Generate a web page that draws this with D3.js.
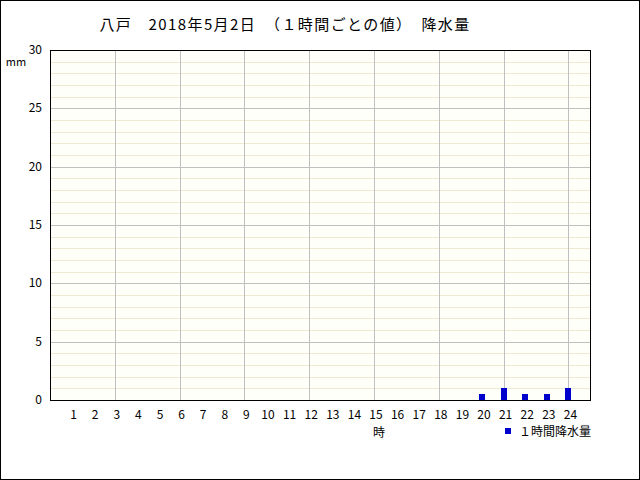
<!DOCTYPE html>
<html>
<head>
<meta charset="utf-8">
<script src="https://cdn.jsdelivr.net/npm/d3@7"></script>
<style>
  body { margin: 0; background: #fff; }
  svg { display: block; font-family: "Noto Sans CJK JP", sans-serif; }
</style>
</head>
<body>
<div id="chart"></div>
<script>
/* Data */
const hours = d3.range(1, 25);
const rain = [0, 0, 0, 0, 0, 0, 0, 0, 0, 0, 0, 0, 0, 0, 0, 0, 0, 0, 0, 0.5, 1.0, 0.5, 0.5, 1.0];
const yTicks = [0, 5, 10, 15, 20, 25, 30];
const title = '八戸　2018年5月2日　（１時間ごとの値）　降水量';

const width = 640;
const height = 480;
const margin = { top: 50, right: 50, bottom: 80, left: 50 };

const svg = d3.select('#chart')
  .append('svg')
  .attr('width', width)
  .attr('height', height);

// outer frame
svg.append('rect')
  .attr('x', 0.5).attr('y', 0.5)
  .attr('width', width - 1).attr('height', height - 1)
  .attr('fill', '#fff')
  .attr('stroke', '#000');

const x = d3.scaleLinear().domain([0, 25]).range([margin.left, width - margin.right]);
const y = d3.scaleLinear().domain([0, 30]).range([height - margin.bottom, margin.top]);

// plot background
svg.append('rect')
  .attr('x', x(0)).attr('y', y(30))
  .attr('width', x(25) - x(0)).attr('height', y(0) - y(30))
  .attr('fill', '#fffffa');

// minor horizontal grid (every 1 mm)
svg.append('g')
  .selectAll('line')
  .data(d3.range(1, 30).filter(v => v % 5 !== 0))
  .join('line')
  .attr('x1', x(0)).attr('x2', x(25))
  .attr('y1', d => Math.round(y(d)) + 0.5)
  .attr('y2', d => Math.round(y(d)) + 0.5)
  .attr('stroke', '#efe8d2');

// major horizontal grid
svg.append('g')
  .selectAll('line')
  .data(yTicks.filter(v => v > 0 && v < 30))
  .join('line')
  .attr('x1', x(0)).attr('x2', x(25))
  .attr('y1', d => Math.round(y(d)) + 0.5)
  .attr('y2', d => Math.round(y(d)) + 0.5)
  .attr('stroke', '#c0c0c0');

// vertical grid every 3 hours
svg.append('g')
  .selectAll('line')
  .data(hours.filter(h => h % 3 === 0))
  .join('line')
  .attr('x1', d => Math.round(x(d)) + 0.5)
  .attr('x2', d => Math.round(x(d)) + 0.5)
  .attr('y1', y(30)).attr('y2', y(0))
  .attr('stroke', '#c0c0c0');

// bars
svg.append('g')
  .selectAll('rect')
  .data(hours.map((h, i) => ({ h, v: rain[i] })).filter(d => d.v > 0))
  .join('rect')
  .attr('x', d => Math.round(x(d.h)) - 3)
  .attr('width', 6)
  .attr('y', d => Math.round(y(d.v)))
  .attr('height', d => y(0) - Math.round(y(d.v)))
  .attr('fill', '#0000cc');

// plot frame
svg.append('rect')
  .attr('x', x(0) + 0.5).attr('y', y(30) + 0.5)
  .attr('width', x(25) - x(0)).attr('height', y(0) - y(30))
  .attr('fill', 'none')
  .attr('stroke', '#000');

// y axis labels
svg.append('g')
  .selectAll('text')
  .data(yTicks)
  .join('text')
  .attr('x', x(0) - 8)
  .attr('y', d => y(d) + 4)
  .attr('text-anchor', 'end')
  .attr('font-size', 12)
  .text(d => d);

svg.append('text')
  .attr('x', 16).attr('y', 66)
  .attr('text-anchor', 'middle')
  .attr('font-size', 11)
  .text('mm');

// x axis labels
svg.append('g')
  .selectAll('text')
  .data(hours)
  .join('text')
  .attr('x', d => x(d) + 2)
  .attr('y', 419)
  .attr('text-anchor', 'middle')
  .attr('font-size', 12)
  .text(d => d);

svg.append('text')
  .attr('x', 379).attr('y', 437)
  .attr('text-anchor', 'middle')
  .attr('font-size', 12)
  .text('時');

// legend
svg.append('rect')
  .attr('x', 505).attr('y', 428)
  .attr('width', 6).attr('height', 6)
  .attr('fill', '#0000cc');

svg.append('text')
  .attr('x', 519).attr('y', 436)
  .attr('font-size', 12)
  .text('１時間降水量');

// title
svg.append('text')
  .attr('x', 285).attr('y', 30)
  .attr('text-anchor', 'middle')
  .attr('font-size', 15)
  .attr('letter-spacing', 1.4)
  .text(title);
</script>
</body>
</html>
